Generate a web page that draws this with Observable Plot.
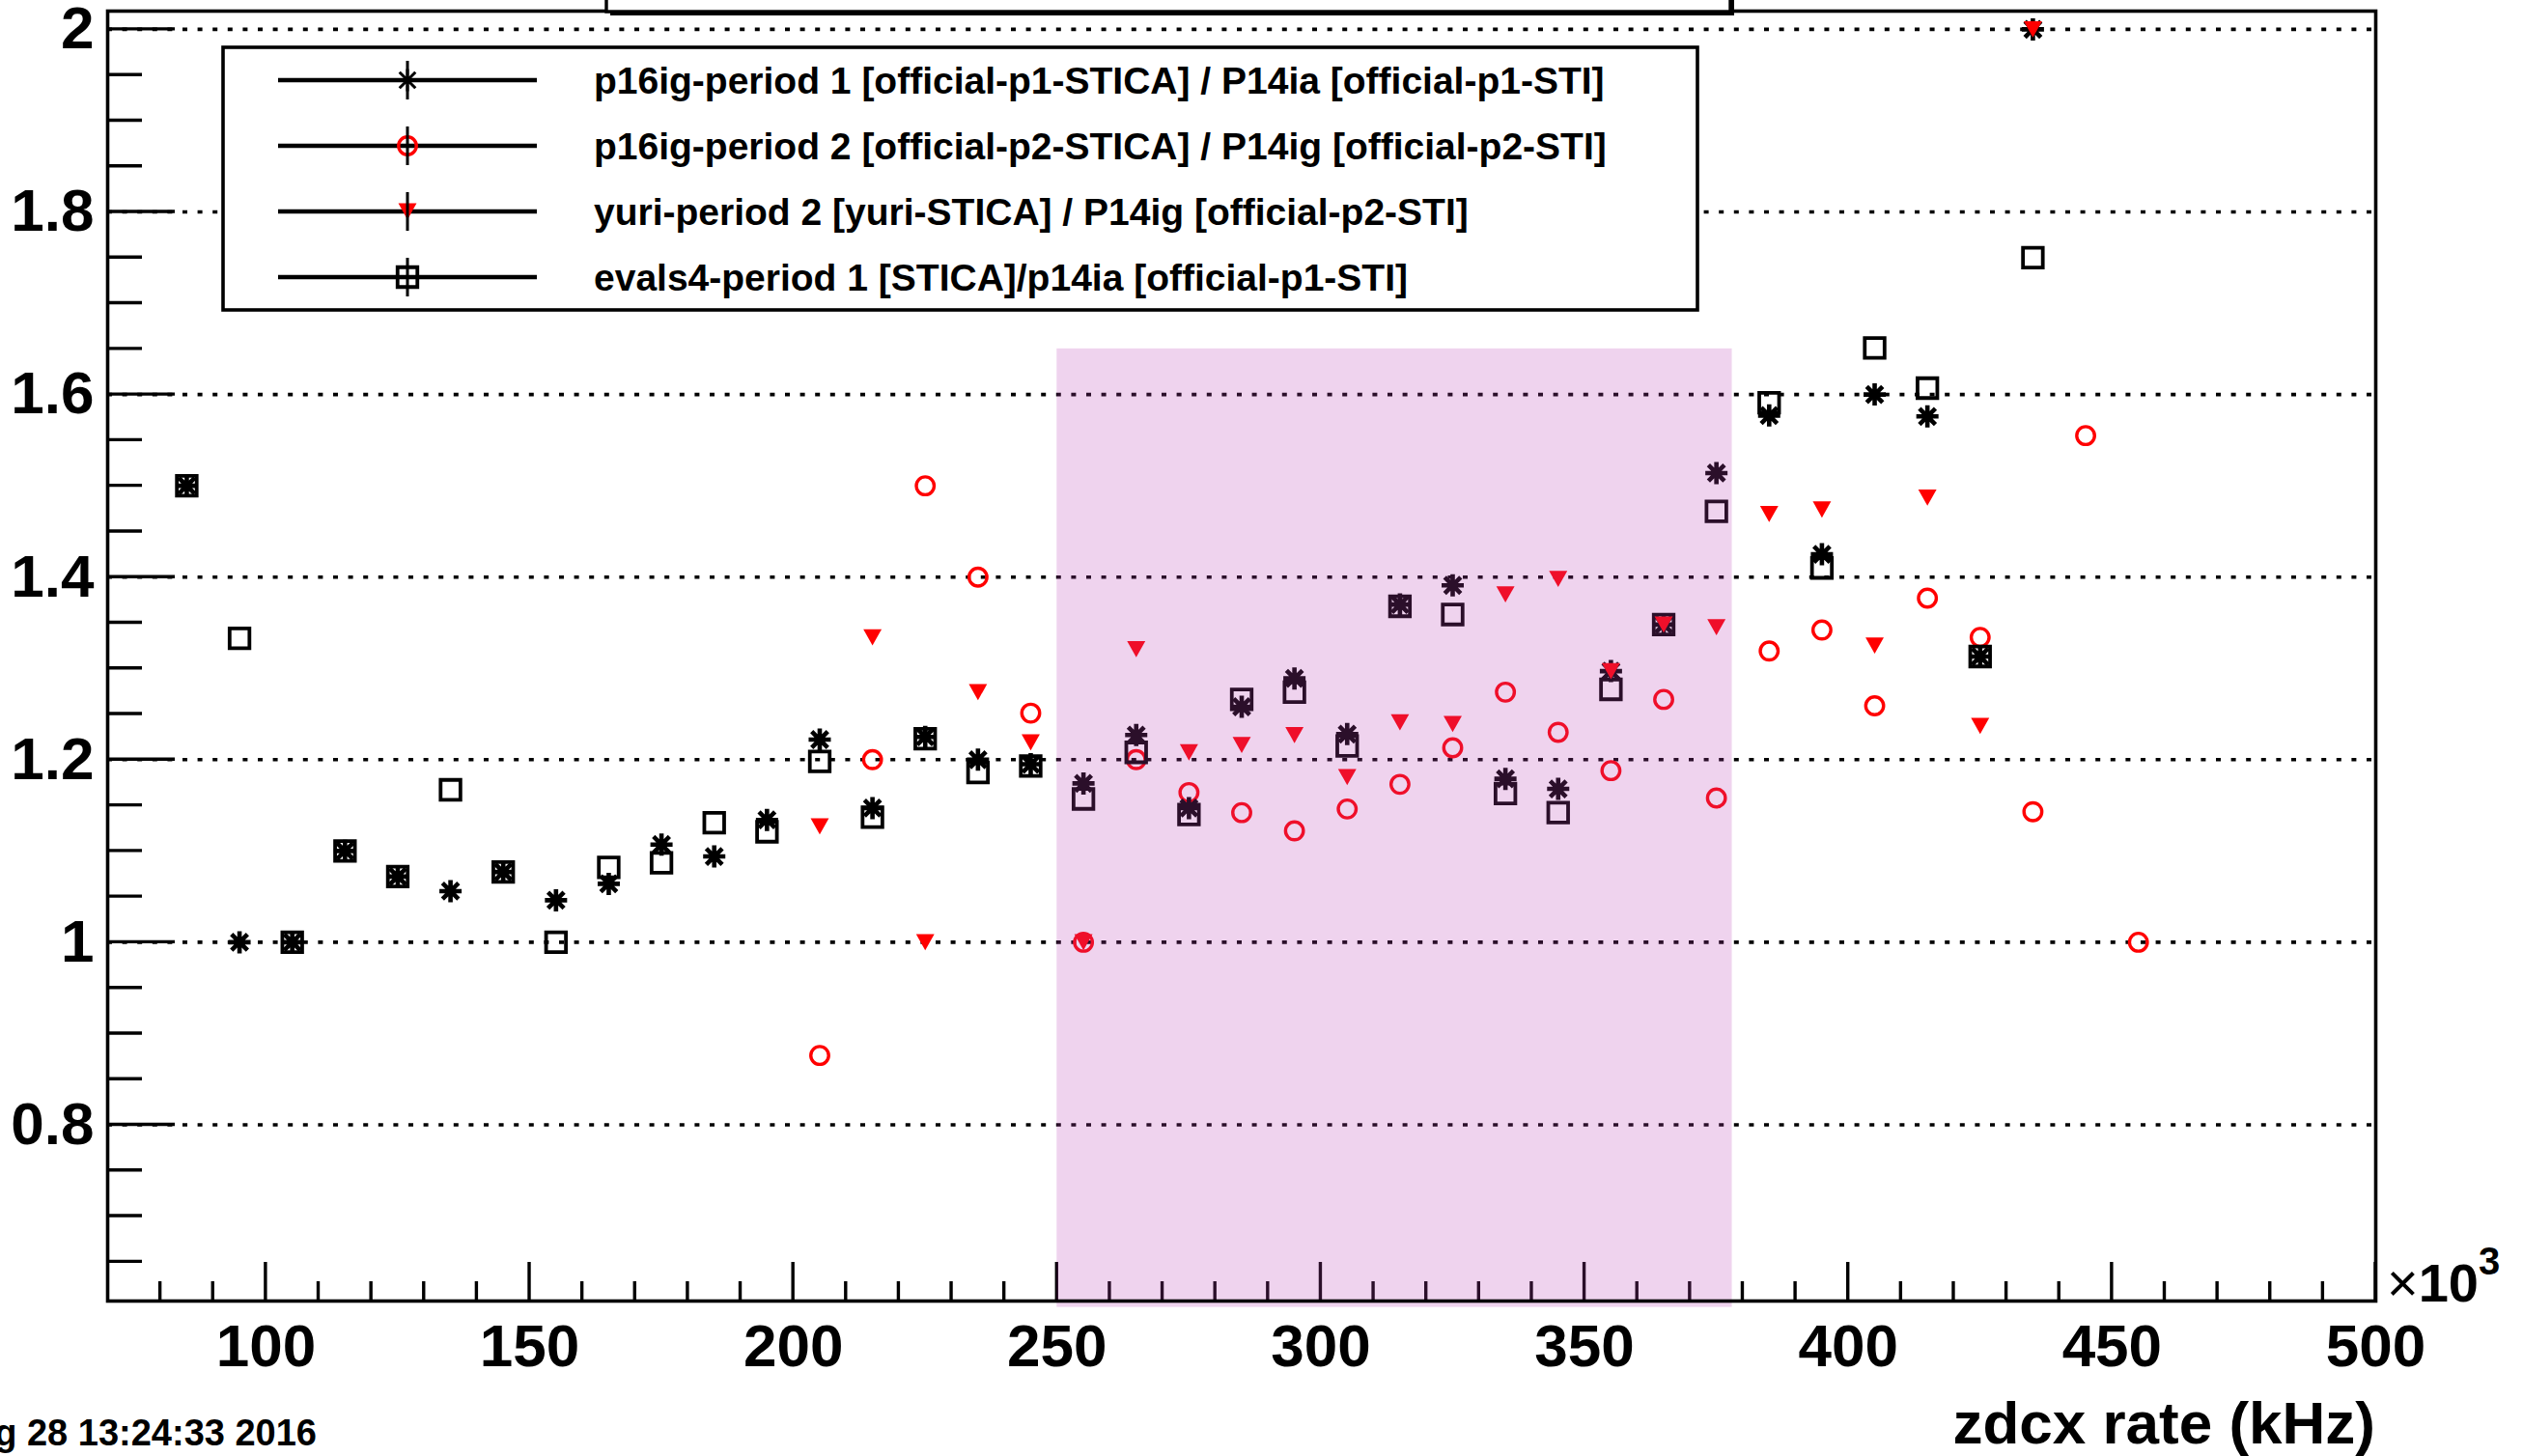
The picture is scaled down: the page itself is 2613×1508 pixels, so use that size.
<!DOCTYPE html>
<html><head><meta charset="utf-8">
<script src="https://cdn.jsdelivr.net/npm/d3@7"></script>
<script src="https://cdn.jsdelivr.net/npm/@observablehq/plot@0.6"></script>
<style>
html,body{margin:0;padding:0;background:#fff;overflow:hidden;}
#chart svg{display:block;}
</style></head><body><div id="chart"></div>
<script>
// ---- data (zdcx rate in units of 10^3 Hz, i.e. kHz) ----
const rateP1 = [85,95,105,115,125,135,145,155,165,175,185,195,205,215,225,235,245,255,265,275,285,295,305,315,325,335,345,355,365,375,385,395,405,415,425,435];
const p16igP1 = [1.5,1.0,1.0,1.10,1.072,1.056,1.077,1.046,1.064,1.107,1.094,1.134,1.222,1.147,1.225,1.2,1.195,1.174,1.227,1.147,1.258,1.289,1.228,1.37,1.391,1.179,1.168,1.297,1.348,1.514,1.577,1.425,1.6,1.576,1.313,2.0];
const evals4P1 = [1.5,1.333,1.0,1.10,1.072,1.167,1.077,1.0,1.082,1.087,1.131,1.121,1.198,1.137,1.223,1.186,1.193,1.157,1.208,1.14,1.266,1.274,1.215,1.368,1.359,1.163,1.142,1.277,1.348,1.472,1.591,1.41,1.651,1.607,1.313,1.75];
const rateP2 = [205,215,225,235,245,255,265,275,285,295,305,315,325,335,345,355,365,375,385,395,405,415,425,435,445,455];
const p16igP2 = [0.876,1.2,1.5,1.4,1.251,1.0,1.2,1.164,1.142,1.122,1.146,1.173,1.213,1.274,1.230,1.188,1.266,1.158,1.319,1.342,1.259,1.377,1.334,1.143,1.555,1.0];
const rateYuri = [205,215,225,235,245,255,265,275,285,295,305,315,325,335,345,355,365,375,385,395,405,415,425,435];
const yuriP2 = [1.127,1.334,1.0,1.274,1.219,1.0,1.321,1.208,1.216,1.227,1.181,1.241,1.239,1.381,1.398,1.297,1.348,1.345,1.469,1.474,1.325,1.487,1.237,2.0];

const seriesNames = [
  "p16ig-period 1 [official-p1-STICA] / P14ia [official-p1-STI]",
  "p16ig-period 2 [official-p2-STICA] / P14ig [official-p2-STI]",
  "yuri-period 2 [yuri-STICA] / P14ig [official-p2-STI]",
  "evals4-period 1 [STICA]/p14ia [official-p1-STI]"
];
const xTicks = [100,150,200,250,300,350,400,450,500];
const xTickLabels = ["100","150","200","250","300","350","400","450","500"];
const yTicks = [0.8,1,1.2,1.4,1.6,1.8,2];
const yTickLabels = ["0.8","1","1.2","1.4","1.6","1.8","2"];
const xDomain = [70, 500];
const yDomain = [0.607, 2.02];
const shadeRate = [250, 378];
const shadeRatio = [0.6, 1.65];
const xTitle = "zdcx rate (kHz)";
const dateText = "g 28 13:24:33 2016";

const FONT = "'Liberation Sans', Arial, Helvetica, sans-serif";
const RED = "#ff0000";

// ---- ROOT-like marker symbols ----
function sym(fn){ return {draw(c, size){ const r = Math.sqrt(size/Math.PI); fn(c, r); }}; }
const starSym = sym((c,r)=>{ c.moveTo(-r,0);c.lineTo(r,0);c.moveTo(0,-r);c.lineTo(0,r);
  const d=r*0.72; c.moveTo(-d,-d);c.lineTo(d,d);c.moveTo(-d,d);c.lineTo(d,-d); });
const squareSym = sym((c,r)=>{ const h=r*0.95; c.moveTo(-h,-h);c.lineTo(h,-h);c.lineTo(h,h);c.lineTo(-h,h);c.closePath(); });
const circleSym = sym((c,r)=>{ const a=r*0.88; c.moveTo(a,0); c.arc(0,0,a,0,2*Math.PI); });
const triSym = sym((c,r)=>{ c.moveTo(-0.9*r,-0.8*r);c.lineTo(0.9*r,-0.8*r);c.lineTo(0,0.8*r);c.closePath(); });

const p1 = rateP1.map((x,i)=>({x, a:p16igP1[i], b:evals4P1[i]}));
const p2 = rateP2.map((x,i)=>({x, v:p16igP2[i]}));
const yu = rateYuri.map((x,i)=>({x, v:yuriP2[i]}));
const shade = [{x1:shadeRate[0], x2:shadeRate[1], y1:shadeRatio[0], y2:shadeRatio[1]}];

const xLab = new Map(xTicks.map((t,i)=>[t,xTickLabels[i]]));
const yLab = new Map(yTicks.map((t,i)=>[t,yTickLabels[i]]));

const styleStar = {symbol: starSym, r: 11.5, stroke: "#000", strokeWidth: 4.6, fill: "none"};
const styleSq = {symbol: squareSym, r: 10.8, stroke: "#000", strokeWidth: 3.8, fill: "none"};
const styleCirc = {symbol: circleSym, r: 10.5, stroke: RED, strokeWidth: 3.4, fill: "none"};
const styleTri = {symbol: triSym, r: 10.5, fill: RED, stroke: "none"};

const plot = Plot.plot({
  width: 2613, height: 1508,
  marginLeft: 111, marginRight: 153, marginTop: 11, marginBottom: 161,
  style: {background: "white", fontFamily: FONT, overflow: "visible"},
  x: {domain: xDomain, axis: null},
  y: {domain: yDomain, axis: null},
  marks: [
    Plot.ruleY(yTicks, {stroke: "#000", strokeWidth: 3.6, strokeDasharray: "5 10.6"}),
    Plot.dot(p2, {x: "x", y: "v", ...styleCirc}),
    Plot.dot(p1, {x: "x", y: "a", ...styleStar}),
    Plot.dot(p1, {x: "x", y: "b", ...styleSq}),
    Plot.dot(yu, {x: "x", y: "v", ...styleTri}),
    Plot.rect(shade, {x1: "x1", x2: "x2", y1: "y1", y2: "y2", fill: "rgb(187,64,181)", fillOpacity: 0.23, clip: false}),
    Plot.axisY({ticks: yTicks, tickSize: 0, tickPadding: 14, tickFormat: d => yLab.get(d), fontSize: 62, fontWeight: "bold", fontFamily: FONT, label: null, fill: "#000"}),
    Plot.axisX({ticks: xTicks, tickSize: 0, tickPadding: 23, tickFormat: d => xLab.get(d), fontSize: 62, fontWeight: "bold", fontFamily: FONT, label: null, fill: "#000"}),
    Plot.frame({stroke: "#000", strokeWidth: 3.6})
  ]
});
document.getElementById("chart").appendChild(plot);

const sx = plot.scale("x"), sy = plot.scale("y");
const svg = d3.select(plot);
const X0 = sx.apply(xDomain[0]), X1 = sx.apply(xDomain[1]);
const Y0 = sy.apply(yDomain[0]), Y1 = sy.apply(yDomain[1]);

// ticks (ROOT style, inside the frame), placed beneath the shaded overlay
const tg = svg.insert("g", "g[aria-label=rect]").attr("stroke", "#000").attr("stroke-width", 3.4);
const yMinor = d3.range(0.65, 2.0001, 0.05).filter(v => !yTicks.some(t => Math.abs(t - v) < 1e-6));
yTicks.forEach(v => tg.append("line").attr("x1", X0).attr("x2", X0 + 70).attr("y1", sy.apply(v)).attr("y2", sy.apply(v)));
yMinor.forEach(v => tg.append("line").attr("x1", X0).attr("x2", X0 + 36).attr("y1", sy.apply(v)).attr("y2", sy.apply(v)));
const xMinor = d3.range(80, 500, 10).filter(v => v % 50 !== 0);
xTicks.forEach(v => tg.append("line").attr("x1", sx.apply(v)).attr("x2", sx.apply(v)).attr("y1", Y0).attr("y2", Y0 - 40));
xMinor.forEach(v => tg.append("line").attr("x1", sx.apply(v)).attr("x2", sx.apply(v)).attr("y1", Y0).attr("y2", Y0 - 20));

// x-axis title, exponent, date
svg.append("text").attr("x", X1).attr("y", 1495).attr("text-anchor", "end")
  .attr("font-family", FONT).attr("font-weight", "bold").attr("font-size", 62).attr("fill", "#000").text(xTitle);
const ex = svg.append("text").attr("x", X1 + 12).attr("y", Y0 + 1).attr("text-anchor", "start")
  .attr("font-family", FONT).attr("font-size", 56).attr("fill", "#000");
ex.append("tspan").text("×");
ex.append("tspan").attr("font-weight", "bold").text("10");
ex.append("tspan").attr("font-weight", "bold").attr("font-size", 40).attr("dy", -28).text("3");
svg.append("text").attr("x", 328).attr("y", 1497).attr("text-anchor", "end")
  .attr("font-family", FONT).attr("font-weight", "bold").attr("font-size", 38).attr("fill", "#000").text(dateText);

// title pave (cut off at the top)
svg.append("rect").attr("x", 632).attr("y", -40).attr("width", 1164).attr("height", 56).attr("fill", "#000");
svg.append("rect").attr("x", 628).attr("y", -40).attr("width", 1164).attr("height", 52)
  .attr("fill", "#fff").attr("stroke", "#000").attr("stroke-width", 3.4);

// legend
const lg = svg.append("g");
lg.append("rect").attr("x", 231).attr("y", 49).attr("width", 1527).attr("height", 272)
  .attr("fill", "#fff").attr("stroke", "#000").attr("stroke-width", 3.6);
const rows = [83, 151, 219, 287];
const legendSyms = [styleStar, styleCirc, styleTri, styleSq];
rows.forEach((ry, i) => {
  lg.append("line").attr("x1", 288).attr("x2", 556).attr("y1", ry).attr("y2", ry).attr("stroke", "#000").attr("stroke-width", 4.5);
  const s = legendSyms[i];
  const p = d3.path(); s.symbol.draw(p, s.r * s.r * Math.PI);
  lg.append("path").attr("transform", `translate(422,${ry})`).attr("d", p.toString())
    .attr("fill", s.fill).attr("stroke", s.stroke).attr("stroke-width", i === 0 ? 3 : (s.strokeWidth || 0));
  lg.append("line").attr("x1", 422).attr("x2", 422).attr("y1", ry - 20).attr("y2", ry + 20).attr("stroke", "#000").attr("stroke-width", 3);
  lg.append("text").attr("x", 615).attr("y", ry + 14).attr("text-anchor", "start").attr("font-family", FONT).attr("font-weight", "bold")
    .attr("font-size", 39).attr("fill", "#000").text(seriesNames[i]);
});
</script>
</body></html>
